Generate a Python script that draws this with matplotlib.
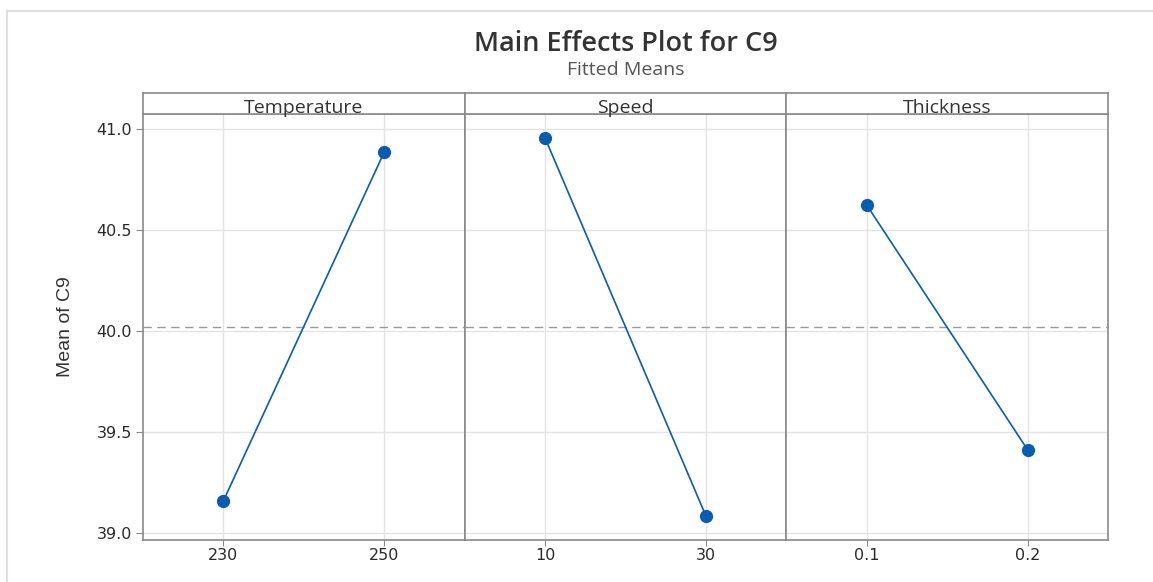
import matplotlib
matplotlib.use('Agg')
import matplotlib.pyplot as plt
from matplotlib.lines import Line2D

# Data
factors = ['Temperature', 'Speed', 'Thickness']
levels = [['230', '250'], ['10', '30'], ['0.1', '0.2']]
means = [[39.159, 40.886], [40.955, 39.084], [40.623, 39.412]]
grand_mean = 40.02
y_ticks = [39.0, 39.5, 40.0, 40.5, 41.0]

plt.rcParams['font.family'] = ['Open Sans', 'DejaVu Sans']

line_color = '#0a5cb0'
spine_color = '#8a8a8a'
grid_color = '#e4e4e4'
tick_font = ['DejaVu Sans']

fig = plt.figure(figsize=(11.53, 5.82), dpi=100)

left, right = 143 / 1153, 1108 / 1153
bottom, top = 42 / 582, 468 / 582
strip_h = 21 / 582
w = (right - left) / 3

for i, (name, lv, m) in enumerate(zip(factors, levels, means)):
    ax = fig.add_axes([left + i * w, bottom, w, top - bottom])
    x = list(range(len(lv)))
    ax.plot(x, m, color=line_color, lw=1.2, marker='o', ms=8.5, zorder=3)
    ax.axhline(grand_mean, color='#9a9a9a', lw=1, ls=(0, (6, 4)), zorder=2)
    ax.set_xlim(-0.5, len(lv) - 0.5)
    ax.set_ylim(38.965, 41.074)
    ax.set_xticks(x)
    ax.set_xticklabels(lv, fontsize=11.5, color='#2a2a2a', family=tick_font)
    ax.set_yticks(y_ticks)
    ax.grid(True, color=grid_color, lw=1, zorder=0)
    ax.set_axisbelow(True)
    for s in ax.spines.values():
        s.set_color(spine_color)
        s.set_linewidth(1.2)
    ax.tick_params(axis='x', length=4, color=spine_color, pad=2)
    if i == 0:
        ax.set_yticklabels([f'{v:.1f}' for v in y_ticks], fontsize=11.5,
                           color='#2a2a2a', family=tick_font)
        ax.tick_params(axis='y', length=5, color=spine_color, pad=3)
        ax.set_ylabel('Mean of C9', fontsize=14, color='#333333', labelpad=16,
                      family=['Liberation Sans Narrow', 'Liberation Sans'])
    else:
        ax.tick_params(axis='y', length=0, labelleft=False)

    # strip header
    sax = fig.add_axes([left + i * w, top, w, strip_h])
    sax.set_xticks([])
    sax.set_yticks([])
    for s in sax.spines.values():
        s.set_color(spine_color)
        s.set_linewidth(1.2)
    sax.text(0.5, 0.3, name, ha='center', va='center', fontsize=14,
             color='#333333', transform=sax.transAxes)

fig.text(0.543, 0.924, 'Main Effects Plot for C9', ha='center', va='center',
         fontsize=19.5, fontweight='semibold', color='#333333')
fig.text(0.543, 0.880, 'Fitted Means', ha='center', va='center',
         fontsize=14, color='#555555')

# faint frame at the top-left like the screenshot
fig.add_artist(Line2D([7 / 1153, 1], [1 - 11 / 582, 1 - 11 / 582],
                      color='#e0e0e0', lw=1.5, transform=fig.transFigure))
fig.add_artist(Line2D([7 / 1153, 7 / 1153], [0, 1 - 11 / 582],
                      color='#e0e0e0', lw=1.5, transform=fig.transFigure))

fig.savefig('out.png', dpi=100)
plt.close(fig)
